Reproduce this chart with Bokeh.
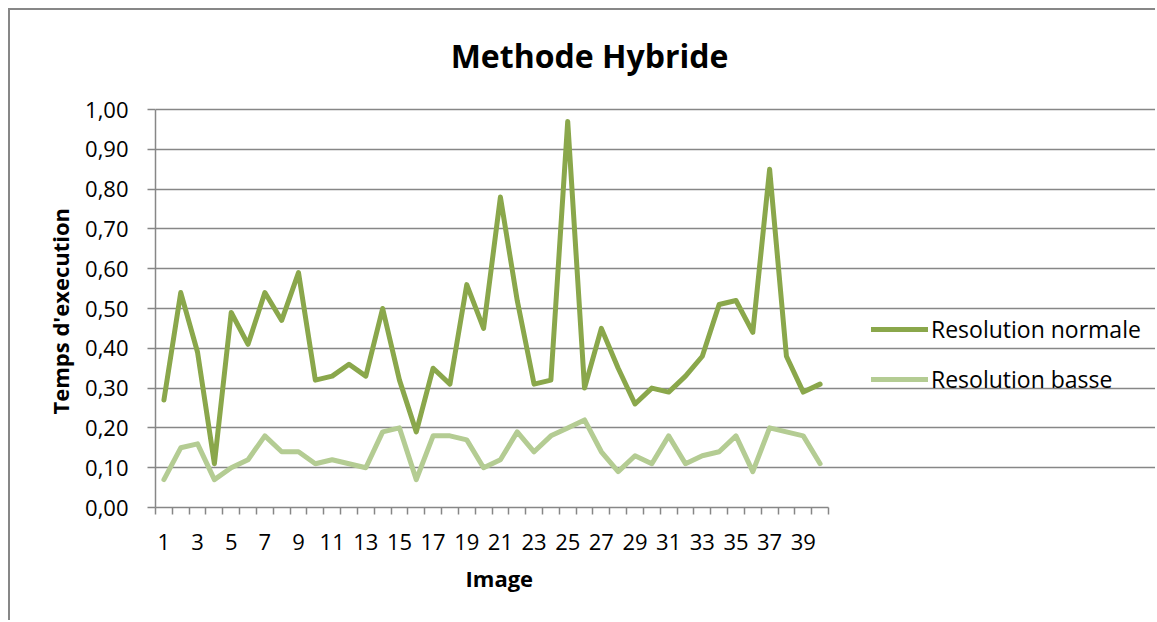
from bokeh.plotting import figure
from bokeh.models import (FixedTicker, CustomJSTickFormatter, Legend, LegendItem,
                          Range1d, Title, Label)
from bokeh.embed import file_html
from bokeh.resources import INLINE

# ---- data ----
images = list(range(1, 41))
resolution_normale = [0.27, 0.54, 0.39, 0.11, 0.49, 0.41, 0.54, 0.47, 0.59, 0.32,
                      0.33, 0.36, 0.33, 0.50, 0.32, 0.19, 0.35, 0.31, 0.56, 0.45,
                      0.78, 0.52, 0.31, 0.32, 0.97, 0.30, 0.45, 0.35, 0.26, 0.30,
                      0.29, 0.33, 0.38, 0.51, 0.52, 0.44, 0.85, 0.38, 0.29, 0.31]
resolution_basse = [0.07, 0.15, 0.16, 0.07, 0.10, 0.12, 0.18, 0.14, 0.14, 0.11,
                    0.12, 0.11, 0.10, 0.19, 0.20, 0.07, 0.18, 0.18, 0.17, 0.10,
                    0.12, 0.19, 0.14, 0.18, 0.20, 0.22, 0.14, 0.09, 0.13, 0.11,
                    0.18, 0.11, 0.13, 0.14, 0.18, 0.09, 0.20, 0.19, 0.18, 0.11]
y_ticks = [0.0, 0.1, 0.2, 0.3, 0.4, 0.5, 0.6, 0.7, 0.8, 0.9, 1.0]
x_label_ticks = list(range(1, 41, 2))
x_boundaries = [i + 0.5 for i in range(0, 41)]

title_text = "Methode Hybride"
x_title = "Image"
y_title = "Temps d'execution"
series_names = ["Resolution normale", "Resolution basse"]
colors = ["#8AA74B", "#B4CC93"]

FONT = "Open Sans"
GRAY = "#878787"

# layout (pixels)
W, H = 1147, 612
LEFT, BOTTOM = 145, 115
PLOT_TOP = 99           # distance from canvas top to the 1,00 gridline
PLOT_W = 673            # width of the category area
frame_w = W - LEFT      # frame runs to the right/top edges so texts are not clipped
frame_h = H - BOTTOM
plot_h = frame_h - PLOT_TOP
n = len(images)
x_start = 0.5
x_end_data = n + 0.5
x_end = x_start + (x_end_data - x_start) * frame_w / PLOT_W
y_end = 1.0 * frame_h / plot_h

p = figure(width=W, height=H, output_backend="svg", toolbar_location=None,
           x_range=Range1d(x_start, x_end), y_range=Range1d(0, y_end),
           min_border_left=LEFT, min_border_right=0, min_border_top=0,
           min_border_bottom=BOTTOM)
p.styles = {"margin-left": "8px", "margin-top": "8px",
            "border-left": "2px solid #878787", "border-top": "2px solid #878787"}
p.outline_line_color = None
p.background_fill_color = "white"
p.border_fill_color = "white"

# chart title (inside the extended frame, above the plot area)
p.add_layout(Label(x=434, y=frame_h - 45, x_units="screen", y_units="screen",
                   text=title_text, text_font=FONT, text_font_size="32px",
                   text_font_style="bold", text_color="black",
                   text_align="center", text_baseline="middle"))

r1 = p.line(images, resolution_normale, line_color=colors[0], line_width=5,
            line_join="round", line_cap="round")
r2 = p.line(images, resolution_basse, line_color=colors[1], line_width=5,
            line_join="round", line_cap="round")

# axes
xa = p.xaxis[0]
xa.bounds = (x_start, x_end_data)
xa.ticker = FixedTicker(ticks=x_label_ticks, minor_ticks=x_boundaries)
xa.major_tick_out = 0
xa.major_tick_in = 0
xa.minor_tick_out = 7
xa.minor_tick_in = 0
xa.minor_tick_line_color = GRAY
xa.minor_tick_line_width = 1.5
xa.axis_line_color = GRAY
xa.axis_line_width = 1.5
xa.major_label_text_font = FONT
xa.major_label_text_font_size = "22px"
xa.major_label_text_color = "black"
xa.major_label_standoff = 19

p.add_layout(Title(text=x_title, text_font=FONT, text_font_size="22px",
                   text_font_style="bold", text_color="black", align="left",
                   vertical_align="top", offset=310, standoff=21), "below")

ya = p.yaxis[0]
ya.bounds = (0, 1)
ya.ticker = FixedTicker(ticks=y_ticks, minor_ticks=[])
ya.formatter = CustomJSTickFormatter(code="return tick.toFixed(2).replace('.', ',');")
ya.major_tick_out = 8
ya.major_tick_in = 0
ya.major_tick_line_color = GRAY
ya.major_tick_line_width = 1.5
ya.minor_tick_out = 0
ya.minor_tick_in = 0
ya.axis_line_color = GRAY
ya.axis_line_width = 1.5
ya.major_label_text_font = FONT
ya.major_label_text_font_size = "22px"
ya.major_label_text_color = "black"
ya.major_label_standoff = 19

p.add_layout(Title(text=y_title, text_font=FONT, text_font_size="22px",
                   text_font_style="bold", text_color="black", align="left",
                   vertical_align="bottom", offset=93, standoff=16), "left")

p.xgrid.grid_line_color = None
p.ygrid.grid_line_color = GRAY
p.ygrid.grid_line_width = 1.5
p.ygrid.bounds = (x_start, x_end_data)

legend = Legend(items=[LegendItem(label=series_names[0], renderers=[r1]),
                       LegendItem(label=series_names[1], renderers=[r2])],
                location=(716, 112), orientation="vertical",
                label_text_font=FONT, label_text_font_size="23px",
                label_text_color="black", glyph_width=57, glyph_height=20,
                label_height=20, label_standoff=3, spacing=18, padding=0,
                margin=0, border_line_color=None, background_fill_alpha=0)
p.add_layout(legend, "center")

open("out.html", "w").write(file_html(p, INLINE))
